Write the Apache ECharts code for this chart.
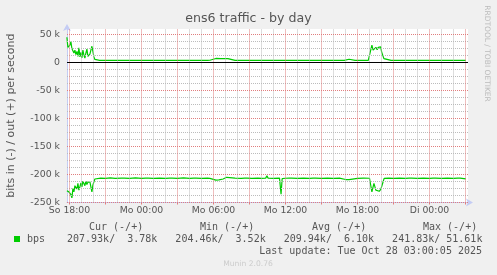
<!DOCTYPE html>
<html>
<head>
<meta charset="utf-8">
<script src="https://cdn.jsdelivr.net/npm/echarts@6/dist/echarts.min.js"></script>
<style>
html,body{margin:0;padding:0;background:#f0f0f0;}
#c{width:497px;height:275px;}
</style>
</head>
<body>
<div id="c"></div>
<script>
// ---- data (hours relative to So 18:00) ----
const titleText = 'ens6 traffic - by day';
const yAxisName = 'bits in (-) / out (+) per second';
const tickHours = [0, 6, 12, 18, 24, 30];
const tickLabels = ['So 18:00', 'Mo 00:00', 'Mo 06:00', 'Mo 12:00', 'Mo 18:00', 'Di 00:00'];
const yTicks = [50000, 0, -50000, -100000, -150000, -200000, -250000];

// out (+) bps
const outBps = [
  [-0.217,45000],[-0.133,27000],[-0.05,24000],[0.033,31000],[0.117,37000],[0.2,25000],
  [0.283,21000],[0.367,17000],[0.45,22000],[0.533,14000],[0.617,20000],[0.7,11000],
  [0.783,26000],[0.867,10000],[0.95,18000],[1.033,8000],[1.117,22000],[1.2,13000],
  [1.283,8000],[1.367,17000],[1.45,24000],[1.533,11000],[1.617,8000],[1.7,15000],
  [1.783,22000],[1.867,29000],[1.95,20000],[2.033,10000],[2.117,5500],[2.2,4000],
  [2.5,3800],[3,3700],[3.5,3900],[4,3700],[4.35,3800],[4.45,6000],[4.55,3800],[5,3700],
  [5.5,3900],[6,3800],[6.35,3700],[6.45,6000],[6.55,3800],[7,3900],[7.5,3700],[8,3800],
  [8.35,3800],[8.45,5800],[8.55,3800],[9,3700],[9.5,3900],[10,3800],[10.35,3700],[10.45,6000],
  [10.55,3800],[11,3900],[11.5,3800],[11.7,4000],[11.8,7000],[12.2,7200],[12.6,7000],
  [13.0,7100],[13.2,6800],[13.3,3900],[13.8,3800],[14.2,3700],[14.6,3800],[14.7,5500],
  [14.8,3800],[15.2,3900],[15.7,3800],[16.0,3700],[16.35,3800],[16.45,6000],[16.55,3800],
  [17,3900],[17.5,3700],[18,3800],[18.3,3800],[18.4,6000],[18.5,3800],[19,3700],[19.5,3900],
  [20,3800],[20.3,3700],[20.4,6000],[20.5,3800],[21,3900],[21.5,3800],[22,3700],[22.9,3800],
  [23.0,5500],[23.3,5800],[23.45,3900],[23.8,3800],[24.2,3700],[24.9,3800],[25.03,4000],
  [25.2,31000],[25.3,22000],[25.45,19000],[25.53,27000],[25.64,23000],[25.73,27000],
  [25.81,25000],[25.93,28000],[26.01,19000],[26.09,20000],[26.2,7000],[26.28,4000],
  [26.8,3800],[27.3,3700],[27.8,3900],[28.3,3800],[28.4,5800],[28.5,3800],[29,3700],
  [29.5,3900],[30,3800],[30.3,3700],[30.4,6000],[30.5,3800],[31,3900],[31.5,3800],[32,3700],
  [32.35,3800],[32.45,5800],[32.55,3800],[33.03,3780]
];

// in (-) bps, drawn negative
const inBps = [
  [-0.217,229000],[-0.133,226000],[-0.05,231000],[0.033,233000],[0.117,236000],[0.2,241800],
  [0.283,225000],[0.367,231000],[0.45,220000],[0.533,222000],[0.617,226000],[0.7,216000],
  [0.783,228000],[0.867,222000],[0.95,215000],[1.033,222000],[1.117,212000],[1.2,216000],
  [1.283,220000],[1.367,212000],[1.45,218000],[1.533,214000],[1.617,211000],[1.7,213000],
  [1.783,222000],[1.867,231000],[1.95,219000],[2.033,213000],[2.117,208000],[2.2,205000],
  [2.283,207000],[2.6,206500],[3.0,207000],[3.4,206000],[3.8,206800],[4.35,206500],
  [4.45,204000],[4.55,206500],[5,207000],[5.5,206200],[6,206800],[6.35,206500],[6.45,204200],
  [6.55,206600],[7,207000],[7.5,206300],[8,206900],[8.35,206500],[8.45,204500],[8.55,206500],
  [9,206800],[9.5,206200],[10,207000],[10.35,206500],[10.45,203800],[10.55,206500],[11,206800],
  [11.5,206400],[11.7,206800],[11.8,209800],[12.2,210000],[12.45,209500],[12.55,207500],
  [12.8,208000],[13.1,205000],[13.25,206800],[13.8,206500],[14.3,206900],[14.6,206500],
  [14.7,204300],[14.8,206500],[15.2,207000],[15.7,206300],[16.0,206900],[16.35,206500],
  [16.45,202500],[16.55,206500],[17,206800],[17.5,206400],[17.55,206600],[17.63,235000],
  [17.72,207500],[18,206700],[18.3,206500],[18.4,203500],[18.5,206500],[19,206900],
  [19.5,206300],[20,206800],[20.3,206500],[20.4,203800],[20.5,206500],[21,207000],
  [21.5,206400],[22,206900],[22.5,206500],[23.0,209000],[23.3,209200],[23.45,206600],
  [24,206800],[24.5,206400],[25.0,206700],[25.1,207000],[25.2,231000],[25.37,216000],
  [25.53,228000],[25.68,226000],[25.81,230000],[25.95,226000],[26.09,216000],[26.22,207000],
  [26.6,206500],[27,206900],[27.5,206400],[28,206800],[28.3,206500],[28.4,204000],
  [28.5,206500],[29,206900],[29.5,206300],[30,206800],[30.3,206500],[30.4,204200],
  [30.5,206500],[31,207000],[31.5,206400],[32,206800],[32.35,206500],[32.45,203800],
  [32.55,206600],[33.03,207930]
];

const legendHeaders = ['Cur (-/+)', 'Min (-/+)', 'Avg (-/+)', 'Max (-/+)'];
const legendName = 'bps';
const legendIn  = ['207.93k', '204.46k', '209.94k', '241.83k'];
const legendOut = ['3.78k', '3.52k', '6.10k', '51.61k'];
const lastUpdate = 'Last update: Tue Oct 28 03:00:05 2025';
const muninVersion = 'Munin 2.0.76';
const watermark = 'RRDTOOL / TOBI OETIKER';

// ---- chart ----
const green = '#00cc00';
const fontCol = '#555555';
const minorCol = '#bcbcbc';
const majorCol = '#e07e7e';
const axisCol = '#c4ccf4';

const majorHours = [], minorHours = [];
for (let h = 0; h <= 33; h++) (h % 3 === 0 ? majorHours : minorHours).push(h);
const yMinor = [];
for (let v = -237500; v < 60000; v += 12500) if (v % 50000 !== 0) yMinor.push(v);

const dots = (c) => ({ color: c, type: [1, 1], width: 1 });
const gridMarks = []
  .concat(minorHours.map(h => ({ xAxis: h, lineStyle: dots(minorCol) })))
  .concat(yMinor.map(v => ({ yAxis: v, lineStyle: dots(minorCol) })))
  .concat(majorHours.map(h => ({ xAxis: h, lineStyle: dots(majorCol) })))
  .concat(yTicks.filter(v => v !== 0).map(v => ({ yAxis: v, lineStyle: dots(majorCol) })))
  .concat([{ yAxis: 0, lineStyle: { color: '#000000', type: 'solid', width: 1 } }]);

const rowText = legendIn.map((a, i) => ((a + '/').padEnd(8) + legendOut[i].padStart(7))).join('   ');
const headerX = [89, 200, 312, 423];

const chart = echarts.init(document.getElementById('c'), null, { renderer: 'canvas' });
chart.setOption({
  animation: false,
  backgroundColor: '#f0f0f0',
  grid: {
    left: 67, right: 29, top: 28.9, height: 173.6,
    show: true, backgroundColor: '#ffffff', borderWidth: 0,
    outerBoundsMode: 'none'
  },
  xAxis: {
    type: 'value',
    min: -2.5 / 12, max: 398.5 / 12,
    axisLine: { show: true, onZero: false, lineStyle: { color: axisCol, width: 1 },
      symbol: ['none', 'arrow'], symbolSize: [6, 7], symbolOffset: [0, 5] },
    axisTick: { show: true, customValues: majorHours, length: 2, inside: false,
      lineStyle: { color: majorCol, width: 1 } },
    splitLine: { show: false },
    axisLabel: {
      customValues: tickHours,
      formatter: v => { const i = tickHours.indexOf(v); return i >= 0 ? tickLabels[i] : ''; },
      color: fontCol, fontFamily: 'DejaVu Sans', fontSize: 9.3, margin: 4
    }
  },
  yAxis: {
    type: 'value',
    min: -250000, max: 60000, interval: 12500,
    name: yAxisName, nameLocation: 'middle', nameGap: 50,
    nameTextStyle: { color: fontCol, fontFamily: 'DejaVu Sans', fontSize: 11 },
    axisLine: { show: true, onZero: false, lineStyle: { color: axisCol, width: 1 },
      symbol: ['none', 'arrow'], symbolSize: [6, 7], symbolOffset: [0, 5] },
    axisTick: { show: false },
    splitLine: { show: false },
    axisLabel: {
      formatter: v => {
        if (yTicks.indexOf(v) < 0) return '';
        return v === 0 ? '0' : (v / 1000) + ' k';
      },
      color: fontCol, fontFamily: 'DejaVu Sans', fontSize: 9.4, margin: 7
    }
  },
  series: [
    {
      type: 'line', z: 1, data: outBps, silent: true, showSymbol: false, symbol: 'none',
      lineStyle: { opacity: 0 },
      markLine: { silent: true, symbol: ['none', 'none'], animation: false, label: { show: false },
        lineStyle: { type: [1, 1], width: 1, color: minorCol },
        emphasis: { disabled: true }, data: gridMarks }
    },
    {
      name: 'out', type: 'line', z: 3, data: outBps, showSymbol: false, symbol: 'none',
      lineStyle: { color: green, width: 1.2 }, silent: true
    },
    {
      name: 'in', type: 'line', z: 3, data: inBps.map(p => [p[0], -p[1]]), showSymbol: false, symbol: 'none',
      lineStyle: { color: green, width: 1.2 }, silent: true
    }
  ],
  graphic: [
    { type: 'text', x: 248.5, y: 19, style: { text: titleText, font: '12.6px "DejaVu Sans"', fill: fontCol, align: 'center', verticalAlign: 'middle' } },
    { type: 'text', x: 487, y: 53.5, rotation: -Math.PI / 2, style: { text: watermark, font: '7.5px "DejaVu Sans"', fill: '#bbbbbb', align: 'center', verticalAlign: 'middle' } },
    ...legendHeaders.map((h, i) => ({ type: 'text', x: headerX[i], y: 227.5, style: { text: h, font: '10px "DejaVu Sans Mono"', fill: fontCol, align: 'left', verticalAlign: 'middle' } })),
    { type: 'rect', shape: { x: 14, y: 236, width: 6, height: 6 }, style: { fill: green } },
    { type: 'text', x: 27, y: 239.5, style: { text: legendName, font: '10px "DejaVu Sans Mono"', fill: fontCol, align: 'left', verticalAlign: 'middle' } },
    { type: 'text', x: 67, y: 239.5, style: { text: rowText, font: '10px "DejaVu Sans Mono"', fill: fontCol, align: 'left', verticalAlign: 'middle' } },
    { type: 'text', x: 482, y: 251.5, style: { text: lastUpdate, font: '10px "DejaVu Sans Mono"', fill: fontCol, align: 'right', verticalAlign: 'middle' } },
    { type: 'text', x: 248, y: 264, style: { text: muninVersion, font: '7.6px "DejaVu Sans"', fill: '#cccccc', align: 'center', verticalAlign: 'middle' } }
  ]
});
</script>
</body>
</html>
